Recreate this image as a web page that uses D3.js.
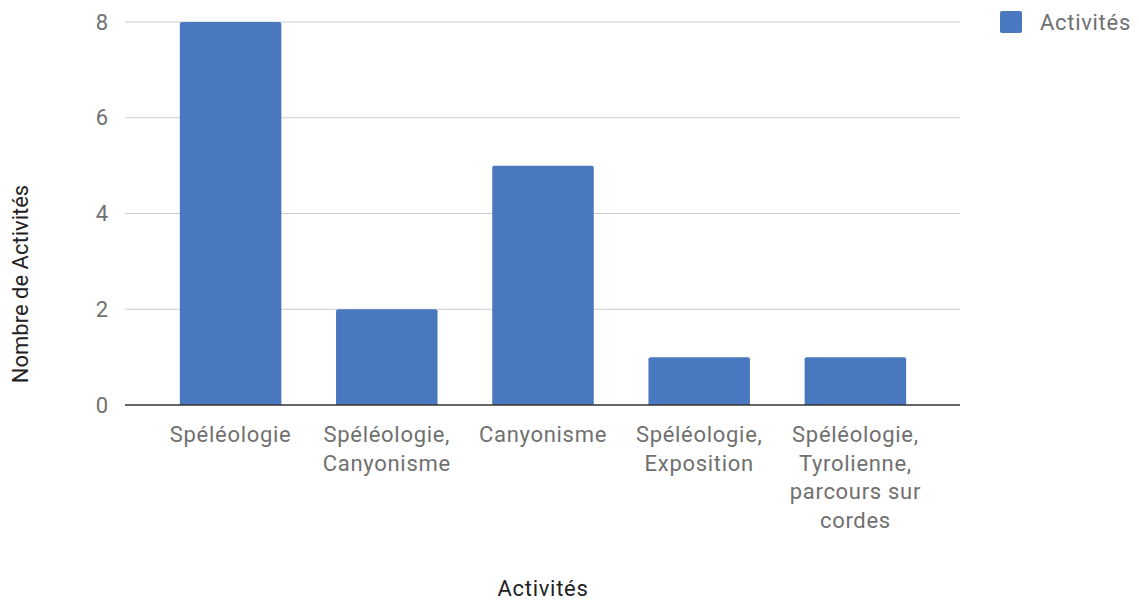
<!DOCTYPE html>
<html><head><meta charset="utf-8">
<script src="https://cdn.jsdelivr.net/npm/d3@7"></script>
<style>body{margin:0;background:#fff;} text{font-family:Roboto, sans-serif;}</style>
</head><body>
<svg id="c" width="1139" height="600"></svg>
<script>
const categories = [
  ["Spéléologie"],
  ["Spéléologie,", "Canyonisme"],
  ["Canyonisme"],
  ["Spéléologie,", "Exposition"],
  ["Spéléologie,", "Tyrolienne,", "parcours sur", "cordes"]
];
const values = [8, 2, 5, 1, 1];
const yTicks = [0, 2, 4, 6, 8];
const seriesName = "Activités";
const xTitle = "Activités";
const yTitle = "Nombre de Activités";

const svg = d3.select("#c");
const color = "#4a78be";
const textColor = "#707070";
const fs = 22;
const ls = 0.7;
const ids = categories.map((c, i) => i);

const x = d3.scaleBand().domain(ids).range([152.5, 933.5]).paddingInner(0.35).paddingOuter(0.175);
const y = d3.scaleLinear().domain([0, 8]).range([405, 22]);

// gridlines
svg.append("g").selectAll("line").data(yTicks.filter(t => t !== 0)).join("line")
  .attr("x1", 125).attr("x2", 960)
  .attr("y1", d => y(d)).attr("y2", d => y(d))
  .attr("stroke", "#cccccc").attr("stroke-width", 1);

// y tick labels
svg.append("g").selectAll("text").data(yTicks).join("text")
  .attr("x", 108).attr("y", d => y(d)).attr("dy", "0.35em")
  .attr("text-anchor", "end").attr("font-size", fs).attr("fill", textColor)
  .text(d => d);

// bars
svg.append("g").selectAll("path").data(values).join("path")
  .attr("fill", color)
  .attr("d", (d, i) => {
    const x0 = x(i), w = x.bandwidth(), y0 = y(d), y1 = y(0), r = 2;
    return `M${x0},${y1}V${y0 + r}Q${x0},${y0} ${x0 + r},${y0}H${x0 + w - r}Q${x0 + w},${y0} ${x0 + w},${y0 + r}V${y1}Z`;
  });

// baseline
svg.append("line").attr("x1", 125).attr("x2", 960).attr("y1", y(0)).attr("y2", y(0))
  .attr("stroke", "#333").attr("stroke-width", 1.5);

// x labels
const xl = svg.append("g").selectAll("text").data(categories).join("text")
  .attr("text-anchor", "middle").attr("font-size", fs).attr("fill", textColor)
  .attr("letter-spacing", ls)
  .attr("transform", (d, i) => `translate(${x(i) + x.bandwidth() / 2},442)`);
xl.selectAll("tspan").data(d => d).join("tspan")
  .attr("x", 0).attr("y", (d, j) => j * 28.7).text(d => d);

// axis titles
svg.append("text").attr("x", 543).attr("y", 596).attr("text-anchor", "middle")
  .attr("font-size", fs).attr("letter-spacing", ls).attr("fill", "#222").text(xTitle);
svg.append("text").attr("transform", "translate(28,284) rotate(-90)").attr("text-anchor", "middle")
  .attr("font-size", fs).attr("fill", "#222").text(yTitle);

// legend
svg.append("rect").attr("x", 1000).attr("y", 11).attr("width", 22).attr("height", 22)
  .attr("rx", 2).attr("fill", color);
svg.append("text").attr("x", 1040).attr("y", 22).attr("dy", "0.35em")
  .attr("font-size", fs).attr("letter-spacing", ls).attr("fill", textColor).text(seriesName);
</script>
</body></html>
